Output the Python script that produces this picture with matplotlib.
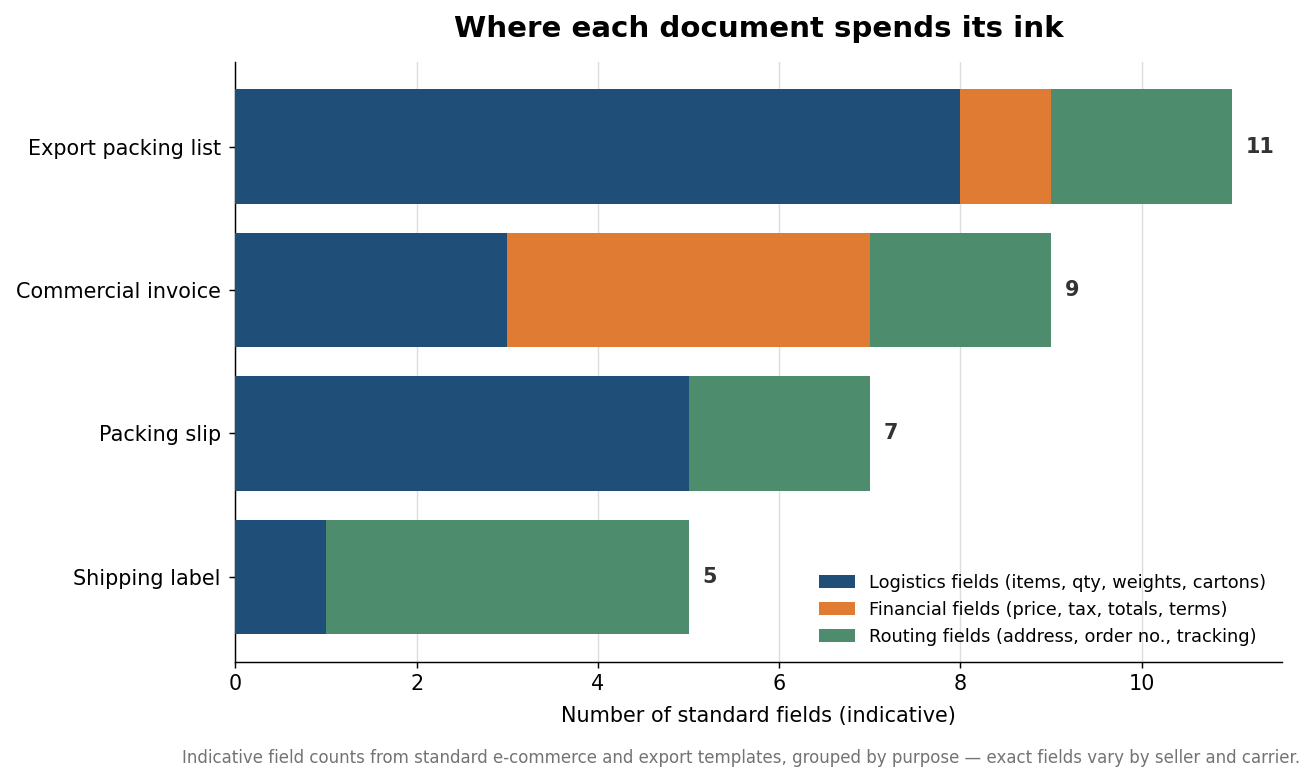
import matplotlib
matplotlib.use("Agg")
import matplotlib.pyplot as plt
import numpy as np

documents = ["Export packing list", "Commercial invoice", "Packing slip", "Shipping label"]
logistics = [8, 3, 5, 1]
financial = [1, 4, 0, 0]
routing = [2, 2, 2, 4]

series_labels = [
    "Logistics fields (items, qty, weights, cartons)",
    "Financial fields (price, tax, totals, terms)",
    "Routing fields (address, order no., tracking)",
]
colors = ["#1f4e79", "#e07b33", "#4e8c6e"]

DPI = 130
fig, ax = plt.subplots(figsize=(1315 / DPI, 783 / DPI), dpi=DPI)
fig.subplots_adjust(left=0.179, right=0.975, top=0.921, bottom=0.155)

y = np.arange(len(documents))[::-1]
left = np.zeros(len(documents))
for vals, lab, col in zip([logistics, financial, routing], series_labels, colors):
    ax.barh(y, vals, left=left, height=0.8, color=col, label=lab, zorder=3)
    left = left + np.array(vals)

for yi, tot in zip(y, left):
    ax.text(tot + 0.15, yi, f"{int(tot)}", va="center", ha="left",
            fontsize=11.5, fontweight="bold", color="#333333")

ax.set_yticks(y)
ax.set_yticklabels(documents, fontsize=11.5)
ax.set_xlim(0, 11.55)
ax.set_xticks([0, 2, 4, 6, 8, 10])
ax.tick_params(axis="x", labelsize=11.5)
ax.tick_params(axis="y", pad=4.5)
ax.grid(True, axis="x", color="#dddddd", linewidth=0.8, zorder=0)
ax.set_axisbelow(True)
for s in ["top", "right"]:
    ax.spines[s].set_visible(False)

ax.set_xlabel("Number of standard fields (indicative)", fontsize=11.5, labelpad=6.5)
ax.set_title("Where each document spends its ink", fontsize=16.2, fontweight="bold", pad=13.5)

ax.legend(loc="lower right", frameon=False, fontsize=9.85)

fig.text(0.989, 0.02,
         "Indicative field counts from standard e-commerce and export templates, grouped by purpose \u2014 exact fields vary by seller and carrier.",
         ha="right", va="bottom", fontsize=9.2, color="#737373")

plt.savefig("out.png", dpi=DPI)
plt.close()
